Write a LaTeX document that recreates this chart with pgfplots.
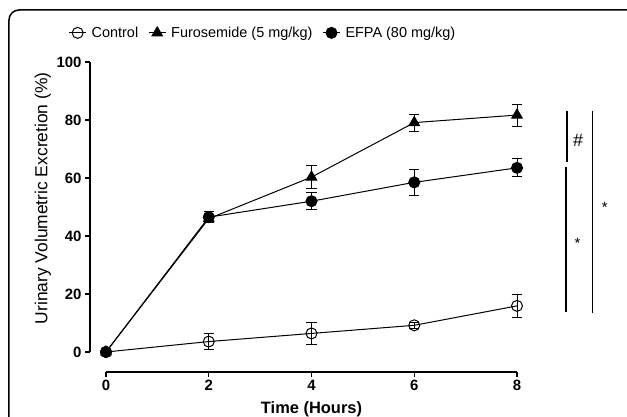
\documentclass[border=0pt]{standalone}
\usepackage{fontspec}
\setmainfont{Liberation Sans}
\usepackage{pgfplots}
\pgfplotsset{compat=1.18}
\begin{document}
\begin{tikzpicture}
\begin{axis}[
    x=51.375bp, y=2.9bp,
    xmin=-0.311, xmax=8, ymin=-6.9, ymax=100,
    clip=false,
    axis line style={draw=none},
    xtick={0,2,4,6,8}, ytick={0,20,40,60,80,100},
    xtick pos=bottom, ytick pos=left,
    tick align=outside, major tick length=5bp,
    tick style={black, line width=1.4bp},
    every tick label/.append style={font=\fontsize{15}{18}\selectfont\bfseries},
    /pgf/number format/assume math mode=true,
    legend columns=3,
    legend style={draw=none, fill=none, at={(axis description cs:0.405,1.094)}, anchor=center,
        font=\fontsize{14.5}{17}\selectfont,
        /tikz/every odd column/.append style={column sep=3bp},
        /tikz/every even column/.append style={column sep=8bp}},
    error bars/error bar style={black, line width=1bp},
    error bars/error mark options={rotate=90, black, mark size=5bp, line width=1bp},
]
% axis lines (offset, prism style)
\draw[line width=1.4bp] (axis cs:0,-6.9) -- (axis cs:8,-6.9);
\draw[line width=1.4bp] (axis cs:-0.311,0) -- (axis cs:-0.311,100);

\addplot[black, line width=1bp, mark=o, mark size=5.5bp, mark options={line width=1bp},
    error bars/.cd, y dir=both, y explicit] coordinates {
    (0,0) +- (0,0)
    (2,3.6) +- (0,2.9)
    (4,6.4) +- (0,3.8)
    (6,9.2) +- (0,1.0)
    (8,15.9) +- (0,4.0)
};
\addplot[black, line width=1bp, mark=triangle*, mark size=6bp,
    error bars/.cd, y dir=both, y explicit] coordinates {
    (0,0) +- (0,0)
    (2,46) +- (0,1.5)
    (4,60.3) +- (0,4.0)
    (6,79.1) +- (0,2.9)
    (8,81.7) +- (0,3.8)
};
\addplot[black, line width=1bp, mark=*, mark size=5.5bp,
    error bars/.cd, y dir=both, y explicit] coordinates {
    (0,0) +- (0,0)
    (2,46.5) +- (0,2.0)
    (4,52) +- (0,3.0)
    (6,58.5) +- (0,4.5)
    (8,63.5) +- (0,3.1)
};
\legend{Control, Furosemide (5 mg/kg), EFPA (80 mg/kg)}

% axis titles
\node[font=\fontsize{16.5}{19}\selectfont\bfseries] at (axis cs:4,-19.7) {Time (Hours)};
\node[font=\fontsize{17.5}{20}\selectfont, rotate=90] at (axis cs:-1.23,53) {Urinary Volumetric Excretion (\%)};

% significance bars
\draw[line width=1.6bp] (axis cs:8.97,83.2) -- (axis cs:8.97,65.6);
\draw[line width=1.6bp] (axis cs:8.95,63.8) -- (axis cs:8.95,13.9);
\draw[line width=1.6bp] (axis cs:9.47,83.2) -- (axis cs:9.47,13.4);
\node[font=\fontsize{18}{20}\selectfont] at (axis cs:9.19,72.9) {\#};
\node[font=\fontsize{15}{17}\selectfont] at (axis cs:9.18,37.5) {*};
\node[font=\fontsize{15}{17}\selectfont] at (axis cs:9.71,49.8) {*};

\coordinate (O) at (axis cs:0,0);
\end{axis}
\pgfresetboundingbox
\path[use as bounding box] ([shift={(-106bp,-65bp)}]O) rectangle ([shift={(521bp,352bp)}]O);
\draw[line width=1.5bp, rounded corners=10bp] ([shift={(-97bp,-80bp)}]O) -- ([shift={(-97bp,342bp)}]O) -- ([shift={(540bp,342bp)}]O);
\end{tikzpicture}
\end{document}
